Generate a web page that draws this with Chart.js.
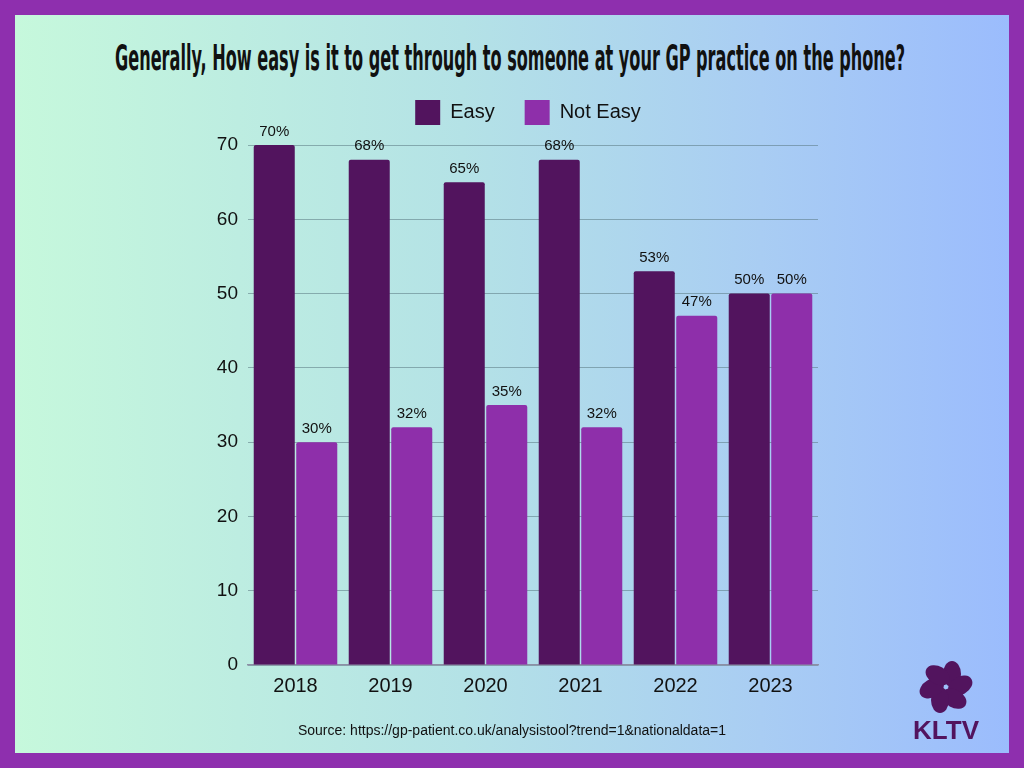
<!DOCTYPE html>
<html>
<head>
<meta charset="utf-8">
<script src="https://cdn.jsdelivr.net/npm/chart.js@4"></script>
<style>
  html, body { margin: 0; padding: 0; }
  body { width: 1024px; height: 768px; overflow: hidden; position: relative;
    background: #8e2fae; font-family: "Liberation Sans", Arial, sans-serif; }
  .panel { position: absolute; left: 15px; top: 15px; width: 994px; height: 738px;
    background: linear-gradient(90deg, #c6f8dc 0%, #b4e2e6 45%, #a9cdf3 75%, #9bbcfd 100%); }
  #chartWrap { position: absolute; left: 0; top: 0; width: 1024px; height: 768px; }
  #title { position: absolute; top: 37px; left: 0; white-space: nowrap;
    font-family: "Liberation Sans Narrow", "DejaVu Sans Condensed", sans-serif;
    font-weight: bold; font-size: 33px; color: #111; transform-origin: 0 0; }
  #source { position: absolute; top: 722px; left: 0; width: 1024px; text-align: center;
    font-size: 14px; color: #111; }
  #logo { position: absolute; left: 908px; top: 657px; width: 76px; text-align: center; }
  #logo .name { font-family: "Liberation Sans", Arial, sans-serif; font-weight: 900;
    font-size: 26px; color: #52145e; margin-top: -6px; }
</style>
</head>
<body>
<div class="panel"></div>
<div id="title">Generally, How easy is it to get through to someone at your GP practice on the phone?</div>
<div id="chartWrap"><canvas id="gpChart" width="1024" height="768"></canvas></div>
<div id="source">Source: https://gp-patient.co.uk/analysistool?trend=1&amp;nationaldata=1</div>
<div id="logo">
  <svg width="64" height="60" viewBox="-30 -30 60 60">
    <g fill="#52145e">
      <ellipse cx="6" cy="-13" rx="9" ry="13" transform="rotate(0)"/>
      <ellipse cx="6" cy="-13" rx="9" ry="13" transform="rotate(60)"/>
      <ellipse cx="6" cy="-13" rx="9" ry="13" transform="rotate(120)"/>
      <ellipse cx="6" cy="-13" rx="9" ry="13" transform="rotate(180)"/>
      <ellipse cx="6" cy="-13" rx="9" ry="13" transform="rotate(240)"/>
      <ellipse cx="6" cy="-13" rx="9" ry="13" transform="rotate(300)"/>
    </g>
  </svg>
  <div class="name">KLTV</div>
</div>
<script>
const years = ['2018', '2019', '2020', '2021', '2022', '2023'];
const easy = [70, 68, 65, 68, 53, 50];
const notEasy = [30, 32, 35, 32, 47, 50];
const yMax = 70;
const yStep = 10;

// stretch the title to the width it has in the picture
const title = document.getElementById('title');
const tw = title.getBoundingClientRect().width;
title.style.transform = 'scale(' + (790 / tw) + ', 1.05)';
title.style.left = '115px';

const easyColor = '#52145e';
const notEasyColor = '#8e2faa';
const font = '"Liberation Sans", Arial, sans-serif';

const valueLabels = {
  id: 'valueLabels',
  afterDatasetsDraw(chart) {
    const ctx = chart.ctx;
    ctx.save();
    ctx.font = '15px ' + font;
    ctx.fillStyle = '#111';
    ctx.textAlign = 'center';
    ctx.textBaseline = 'bottom';
    chart.data.datasets.forEach((ds, i) => {
      chart.getDatasetMeta(i).data.forEach((bar, j) => {
        ctx.fillText(ds.data[j] + '%', bar.x, bar.y - 6);
      });
    });
    ctx.restore();
  }
};

// legend: wide gaps between items, a bit more room below, centred over the plot
const legendTweak = {
  id: 'legendTweak',
  beforeInit(chart) {
    const fit = chart.legend.fit;
    chart.legend.fit = function () {
      fit.call(this);
      this.height += 10;
    };
  },
  afterLayout(chart) {
    chart.legend.left += 15;
    chart.legend.right += 15;
  }
};

new Chart(document.getElementById('gpChart'), {
  type: 'bar',
  data: {
    labels: years,
    datasets: [
      { label: 'Easy', data: easy, backgroundColor: easyColor, borderRadius: 2, borderSkipped: 'bottom' },
      { label: 'Not Easy', data: notEasy, backgroundColor: notEasyColor, borderRadius: 2, borderSkipped: 'bottom' },
    ],
  },
  options: {
    responsive: false,
    animation: false,
    devicePixelRatio: 1,
    categoryPercentage: 0.895,
    barPercentage: 0.965,
    layout: { padding: { left: 208, right: 206, top: 70, bottom: 69 } },
    scales: {
      x: {
        grid: { display: false },
        border: { color: '#8d8fa6', width: 1.5 },
        ticks: { color: '#111', padding: 1, font: { size: 20, family: font } },
      },
      y: {
        min: 0,
        max: yMax,
        afterFit(scale) { scale.width = 40; },
        grid: { color: 'rgba(90, 120, 130, 0.55)', drawTicks: false },
        border: { display: false },
        ticks: { stepSize: yStep, color: '#111', padding: 10, font: { size: 19, family: font } },
      },
    },
    plugins: {
      legend: {
        labels: {
          color: '#111',
          boxWidth: 25,
          boxHeight: 25,
          padding: 30,
          font: { size: 20, family: font },
        },
      },
      tooltip: { enabled: false },
    },
  },
  plugins: [valueLabels, legendTweak],
});
</script>
</body>
</html>
